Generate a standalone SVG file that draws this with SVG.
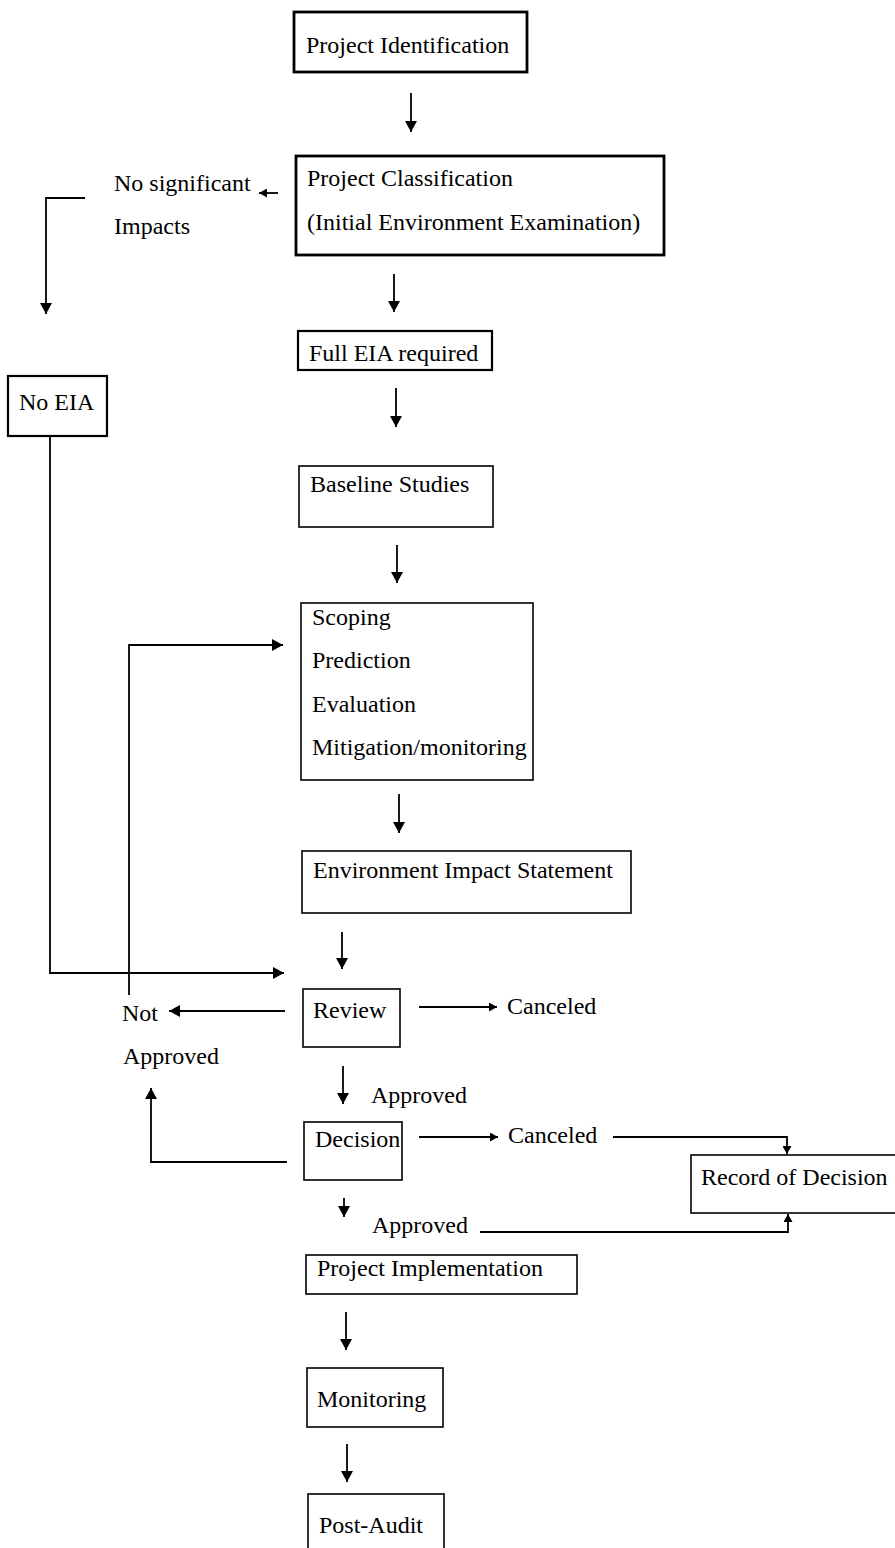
<svg xmlns="http://www.w3.org/2000/svg" width="895" height="1548" viewBox="0 0 895 1548">
<defs>
<style>
text{font-family:"Liberation Serif","Times New Roman",serif;font-size:24px;fill:#000}
.box{fill:#fff;stroke:#000;stroke-width:1.6}
.thick{stroke-width:2.8}
.mid{stroke-width:2.2}
.c{fill:none;stroke:#000;stroke-width:1.8}
.a{marker-end:url(#ah)}
.s{marker-end:url(#ahs)}
</style>
<marker id="ah" markerUnits="userSpaceOnUse" markerWidth="12" markerHeight="12" refX="11" refY="6" orient="auto">
<path d="M0,0 L11,6 L0,12 z" fill="#000"/>
</marker>
<marker id="ahs" markerUnits="userSpaceOnUse" markerWidth="9" markerHeight="9" refX="8" refY="4.5" orient="auto">
<path d="M0,0 L8,4.5 L0,9 z" fill="#000"/>
</marker>
</defs>
<rect width="895" height="1548" fill="#fff"/>

<g id="connectors">
<line class="c a" x1="411" y1="93" x2="411" y2="132"/>
<line class="c s" x1="278" y1="193" x2="259" y2="193"/>
<path class="c a" d="M85,198 H46 V314"/>
<line class="c a" x1="394" y1="274" x2="394" y2="312"/>
<line class="c a" x1="396" y1="388" x2="396" y2="427"/>
<line class="c a" x1="397" y1="545" x2="397" y2="583"/>
<line class="c a" x1="399" y1="794" x2="399" y2="833"/>
<line class="c a" x1="342" y1="932" x2="342" y2="969"/>
<path class="c a" d="M50,436 V973 H284"/>
<path class="c a" d="M129,995 V645 H283"/>
<line class="c a" x1="285" y1="1011" x2="169" y2="1011"/>
<line class="c s" x1="419" y1="1007" x2="497" y2="1007"/>
<line class="c a" x1="343" y1="1066" x2="343" y2="1104"/>
<path class="c a" d="M287,1162 H151 V1088"/>
<line class="c s" x1="419" y1="1137" x2="498" y2="1137"/>
<path class="c s" d="M613,1137 H787 V1154"/>
<line class="c a" x1="344" y1="1198" x2="344" y2="1217"/>
<path class="c s" d="M480,1232 H788 V1214"/>
<line class="c a" x1="346" y1="1312" x2="346" y2="1350"/>
<line class="c a" x1="347" y1="1444" x2="347" y2="1482"/>
</g>

<g id="project-identification">
<rect class="box thick" x="294" y="12" width="233" height="60"/>
<text x="306" y="53">Project Identification</text>
</g>
<g id="project-classification">
<rect class="box thick" x="296" y="156" width="368" height="99"/>
<text x="307" y="186">Project Classification</text>
<text x="307" y="230">(Initial Environment Examination)</text>
</g>
<g id="no-significant-impacts">
<text x="114" y="191">No significant</text>
<text x="114" y="234">Impacts</text>
</g>
<g id="full-eia">
<rect class="box mid" x="298" y="331" width="194" height="39"/>
<text x="309" y="361">Full EIA required</text>
</g>
<g id="no-eia">
<rect class="box mid" x="8" y="376" width="99" height="60"/>
<text x="19" y="410">No EIA</text>
</g>
<g id="baseline-studies">
<rect class="box" x="299" y="466" width="194" height="61"/>
<text x="310" y="492">Baseline Studies</text>
</g>
<g id="scoping">
<rect class="box" x="301" y="603" width="232" height="177"/>
<text x="312" y="625">Scoping</text>
<text x="312" y="668">Prediction</text>
<text x="312" y="712">Evaluation</text>
<text x="312" y="755">Mitigation/monitoring</text>
</g>
<g id="eis">
<rect class="box" x="302" y="851" width="329" height="62"/>
<text x="313" y="878">Environment Impact Statement</text>
</g>
<g id="review">
<rect class="box" x="303" y="989" width="97" height="58"/>
<text x="313" y="1018">Review</text>
</g>
<g id="not-approved">
<text x="122" y="1021">Not</text>
<text x="123" y="1064">Approved</text>
</g>
<g id="review-canceled">
<text x="507" y="1014">Canceled</text>
</g>
<g id="review-approved">
<text x="371" y="1103">Approved</text>
</g>
<g id="decision">
<rect class="box" x="304" y="1122" width="98" height="58"/>
<text x="315" y="1147">Decision</text>
</g>
<g id="decision-canceled">
<text x="508" y="1143">Canceled</text>
</g>
<g id="record-of-decision">
<rect class="box" x="691" y="1155" width="210" height="58"/>
<text x="701" y="1185">Record of Decision</text>
</g>
<g id="decision-approved">
<text x="372" y="1233">Approved</text>
</g>
<g id="project-implementation">
<rect class="box" x="306" y="1255" width="271" height="39"/>
<text x="317" y="1276">Project Implementation</text>
</g>
<g id="monitoring">
<rect class="box" x="307" y="1368" width="136" height="59"/>
<text x="317" y="1407">Monitoring</text>
</g>
<g id="post-audit">
<rect class="box" x="308" y="1494" width="136" height="70"/>
<text x="319" y="1533">Post-Audit</text>
</g>
</svg>
